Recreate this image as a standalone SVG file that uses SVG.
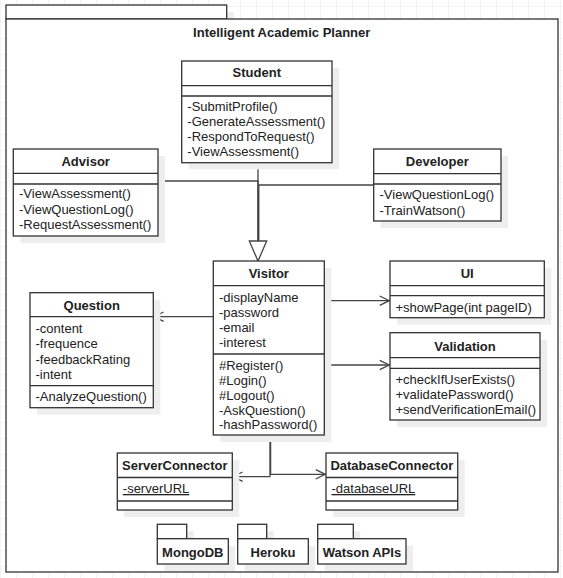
<svg xmlns="http://www.w3.org/2000/svg" width="563" height="578" viewBox="0 0 563 578">
<defs>
<pattern id="grid" width="16" height="16" patternUnits="userSpaceOnUse" x="0" y="6">
<path d="M0,0.5 H16 M0.5,0 V16" fill="none" stroke="#f3f3f3" stroke-width="1"/>
</pattern>
<marker id="tri" viewBox="-1 -1 22 19.4" refX="20" refY="8.7" markerWidth="22" markerHeight="19.4" markerUnits="userSpaceOnUse" orient="auto" overflow="visible">
<path d="M0,0 L20,8.7 L0,17.4 Z" fill="#fff" stroke="#444" stroke-width="1.3"/>
</marker>
</defs>
<style>
text{font-family:"Liberation Sans",Arial,Helvetica,sans-serif;font-size:13px;fill:#222}
.n{font-weight:bold;text-anchor:middle}
.u{text-decoration:underline}
.box{fill:#fff;stroke:#333;stroke-width:1.3}
.sh{fill:#eeeeee;stroke:none}
.div{stroke:#333;stroke-width:1.3;fill:none}
.c{fill:none;stroke:#444;stroke-width:1.3}
.ah{fill:none;stroke:#444;stroke-width:1.3;stroke-linejoin:miter}
</style>
<rect width="563" height="578" fill="#fff"/>
<rect width="563" height="578" fill="url(#grid)"/>

<g id="package-main">
<rect class="sh" x="13" y="12" width="220.7" height="14"/>
<rect class="box" x="6" y="5" width="220.7" height="14"/>
<rect class="box" x="6" y="19" width="552" height="553"/>
<text class="n" x="281.7" y="37.3">Intelligent Academic Planner</text>
</g>

<g id="connectors">
<path class="c" d="M258,162.7 V261" marker-end="url(#tri)"/>
<path class="c" d="M158,181 H258 V241"/>
<path class="c" d="M373.7,185 H258.8 V241"/>
<path class="c" d="M213.3,316.7 H154"/>
<path class="ah" d="M163.6,312 L154,316.7 L163.6,321.4"/>
<path class="c" d="M324.3,300.7 H389.3"/>
<path class="ah" d="M379.7,296 L389.3,300.7 L379.7,305.4"/>
<path class="c" d="M324.3,365 H389.3"/>
<path class="ah" d="M379.7,360.3 L389.3,365 L379.7,369.7"/>
<path class="c" d="M270,435 V476.7 H233"/>
<path class="ah" d="M242.6,472 L233,476.7 L242.6,481.4"/>
<path class="c" d="M270.6,435 V474.3 H325.3"/>
<path class="ah" d="M315.7,469.6 L325.3,474.3 L315.7,479"/>
</g>

<g id="Student">
<rect class="sh" x="188.7" y="67.7" width="150.3" height="101.7"/>
<rect class="box" x="181.7" y="61" width="150.3" height="101.7"/>
<path class="div" d="M181.7,85.7 H332 M181.7,96 H332"/>
<text class="n" x="256.8" y="77.3">Student</text>
<text x="187.3" y="111.3">-SubmitProfile()</text>
<text x="187.3" y="126.3">-GenerateAssessment()</text>
<text x="187.3" y="141.3">-RespondToRequest()</text>
<text x="187.3" y="156.3">-ViewAssessment()</text>
</g>

<g id="Advisor">
<rect class="sh" x="20.3" y="156" width="144.7" height="87"/>
<rect class="box" x="13.3" y="149" width="144.7" height="87"/>
<path class="div" d="M13.3,173.3 H158 M13.3,184 H158"/>
<text class="n" x="85.7" y="166.3">Advisor</text>
<text x="19" y="198">-ViewAssessment()</text>
<text x="19" y="213.5">-ViewQuestionLog()</text>
<text x="19" y="229">-RequestAssessment()</text>
</g>

<g id="Developer">
<rect class="sh" x="380.7" y="156" width="127.3" height="72"/>
<rect class="box" x="373.7" y="149" width="127.3" height="72"/>
<path class="div" d="M373.7,173.7 H501 M373.7,184 H501"/>
<text class="n" x="437.3" y="166.3">Developer</text>
<text x="379.5" y="199">-ViewQuestionLog()</text>
<text x="379.5" y="214.6">-TrainWatson()</text>
</g>

<g id="Visitor">
<rect class="sh" x="220.3" y="268" width="111" height="174"/>
<rect class="box" x="213.3" y="261" width="111" height="174"/>
<path class="div" d="M213.3,285.7 H324.3 M213.3,354 H324.3"/>
<text class="n" x="268.8" y="278">Visitor</text>
<text x="219" y="302">-displayName</text>
<text x="219" y="317">-password</text>
<text x="219" y="331.7">-email</text>
<text x="219" y="346.5">-interest</text>
<text x="219" y="369.6">#Register()</text>
<text x="219" y="384.6">#Login()</text>
<text x="219" y="399.6">#Logout()</text>
<text x="219" y="414.6">-AskQuestion()</text>
<text x="219" y="429.4">-hashPassword()</text>
</g>

<g id="Question">
<rect class="sh" x="37" y="299.7" width="123.3" height="115"/>
<rect class="box" x="30" y="292.7" width="123.3" height="115"/>
<path class="div" d="M30,316.7 H153.3 M30,385.7 H153.3"/>
<text class="n" x="91.7" y="310.3">Question</text>
<text x="35.5" y="333">-content</text>
<text x="35.5" y="348.3">-frequence</text>
<text x="35.5" y="363.5">-feedbackRating</text>
<text x="35.5" y="378.5">-intent</text>
<text x="35.5" y="401.3">-AnalyzeQuestion()</text>
</g>

<g id="UI">
<rect class="sh" x="397" y="268" width="154.3" height="56.7"/>
<rect class="box" x="390" y="261" width="154.3" height="56.7"/>
<path class="div" d="M390,285.7 H544.3 M390,295.7 H544.3"/>
<text class="n" x="467.2" y="278">UI</text>
<text x="395.5" y="312.3">+showPage(int pageID)</text>
</g>

<g id="Validation">
<rect class="sh" x="397" y="339.7" width="150" height="87.3"/>
<rect class="box" x="390" y="332.7" width="150" height="87.3"/>
<path class="div" d="M390,357.7 H540 M390,368.3 H540"/>
<text class="n" x="465" y="350.6">Validation</text>
<text x="395.5" y="383.5">+checkIfUserExists()</text>
<text x="395.5" y="398.5">+validatePassword()</text>
<text x="395.5" y="413.5">+sendVerificationEmail()</text>
</g>

<g id="ServerConnector">
<rect class="sh" x="124.3" y="460" width="115" height="57"/>
<rect class="box" x="117.3" y="453" width="115" height="57"/>
<path class="div" d="M117.3,477.5 H232.3 M117.3,501 H232.3"/>
<text class="n" x="174.8" y="469.6">ServerConnector</text>
<text class="u" x="122.8" y="493">-serverURL</text>
</g>

<g id="DatabaseConnector">
<rect class="sh" x="333" y="460" width="131.7" height="57"/>
<rect class="box" x="326" y="453" width="131.7" height="57"/>
<path class="div" d="M326,477.5 H457.7 M326,501 H457.7"/>
<text class="n" x="391.8" y="469.6">DatabaseConnector</text>
<text class="u" x="331.5" y="493">-databaseURL</text>
</g>

<g id="MongoDB">
<rect class="sh" x="164.3" y="531.3" width="29.4" height="14.4"/>
<rect class="sh" x="164.3" y="545.7" width="71" height="25.3"/>
<rect class="box" x="157.3" y="524.3" width="29.4" height="14.4"/>
<rect class="box" x="157.3" y="538.7" width="71" height="25.3"/>
<text class="n" x="192.8" y="557.3">MongoDB</text>
</g>

<g id="Heroku">
<rect class="sh" x="244.7" y="531.3" width="29" height="14.4"/>
<rect class="sh" x="244.7" y="545.7" width="70.6" height="25.3"/>
<rect class="box" x="237.7" y="524.3" width="29" height="14.4"/>
<rect class="box" x="237.7" y="538.7" width="70.6" height="25.3"/>
<text class="n" x="273" y="557.3">Heroku</text>
</g>

<g id="WatsonAPIs">
<rect class="sh" x="324.7" y="531.3" width="35.6" height="14.4"/>
<rect class="sh" x="324.7" y="545.7" width="88.3" height="25.3"/>
<rect class="box" x="317.7" y="524.3" width="35.6" height="14.4"/>
<rect class="box" x="317.7" y="538.7" width="88.3" height="25.3"/>
<text class="n" x="361.9" y="557.3">Watson APIs</text>
</g>
</svg>
